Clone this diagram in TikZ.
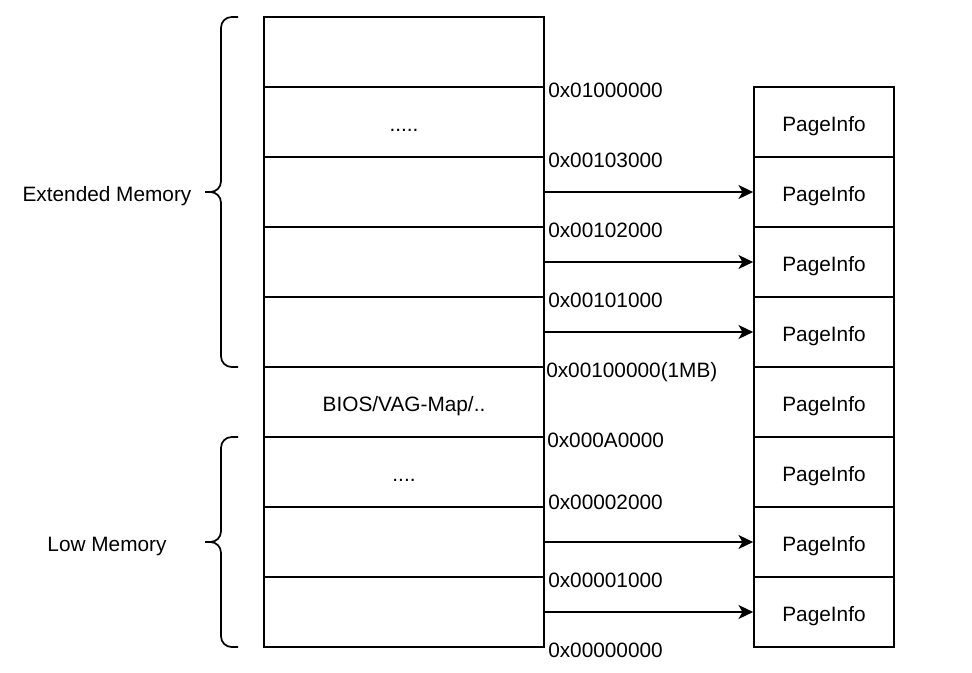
\documentclass[tikz,border=0pt]{standalone}
\usepackage{fontspec}
\setmainfont{Liberation Sans}
\usetikzlibrary{arrows.meta}

\begin{document}
\begin{tikzpicture}[x=0.75pt,y=0.75pt,yscale=-1,xscale=1,
    txt/.style={font=\fontsize{15.6}{18}\selectfont, text height=15pt, text depth=1.2pt},
    mem/.style={txt, draw, line width=1.3pt, minimum width=210pt, minimum height=52.5pt, inner sep=0pt},
    page/.style={txt, draw, line width=1.3pt, minimum width=105pt, minimum height=52.5pt, inner sep=0pt},
    addr/.style={txt, anchor=west, inner sep=0pt},
    arr/.style={line width=1.3pt, -{Stealth[length=11pt,width=10.5pt,inset=3pt]}},
    curly/.style={line width=1.3pt, rounded corners=8pt}]
        \useasboundingbox (0,0) rectangle (972,672);

        %Shape: Memory column
        \node [mem] (m1) at (404,52) {};
        \node [mem] (m2) at (404,122) {.....};
        \node [mem] (m3) at (404,192) {};
        \node [mem] (m4) at (404,262) {};
        \node [mem] (m5) at (404,332) {};
        \node [mem] (m6) at (404,402) {BIOS/VAG-Map/..};
        \node [mem] (m7) at (404,472) {....};
        \node [mem] (m8) at (404,542) {};
        \node [mem] (m9) at (404,612) {};

        %Shape: PageInfo column
        \node [page] (p1) at (824,122) {PageInfo};
        \node [page] (p2) at (824,192) {PageInfo};
        \node [page] (p3) at (824,262) {PageInfo};
        \node [page] (p4) at (824,332) {PageInfo};
        \node [page] (p5) at (824,402) {PageInfo};
        \node [page] (p6) at (824,472) {PageInfo};
        \node [page] (p7) at (824,542) {PageInfo};
        \node [page] (p8) at (824,612) {PageInfo};

        %Straight Lines
        \draw [arr] (m3) -- (p2);
        \draw [arr] (m4) -- (p3);
        \draw [arr] (m5) -- (p4);
        \draw [arr] (m8) -- (p7);
        \draw [arr] (m9) -- (p8);

        % Text Node
        \node [addr] (a1) at (548,88) {0x01000000};
        % Text Node
        \node [addr] (a2) at (548,158) {0x00103000};
        % Text Node
        \node [addr] (a3) at (548,228) {0x00102000};
        % Text Node
        \node [addr] (a4) at (548,298) {0x00101000};
        % Text Node
        \node [addr] (a5) at (546,368) {0x00100000(1MB)};
        % Text Node
        \node [addr] (a6) at (547,438) {0x000A0000};
        % Text Node
        \node [addr] (a7) at (548,500) {0x00002000};
        % Text Node
        \node [addr] (a8) at (548,578) {0x00001000};
        % Text Node
        \node [addr] (a9) at (548,648) {0x00000000};

        %Shape: Braces
        \draw [curly] (238,17) -| (221,192) -- (205,192);
        \draw [curly] (238,367) -| (221,192) -- (205,192);
        \draw [curly] (238,437) -| (221,542) -- (205,542);
        \draw [curly] (238,647) -| (221,542) -- (205,542);

        % Text Node
        \node [txt] (ext) at (107,192) {Extended Memory};
        % Text Node
        \node [txt] (low) at (107,542) {Low Memory};

\end{tikzpicture}
\end{document}
